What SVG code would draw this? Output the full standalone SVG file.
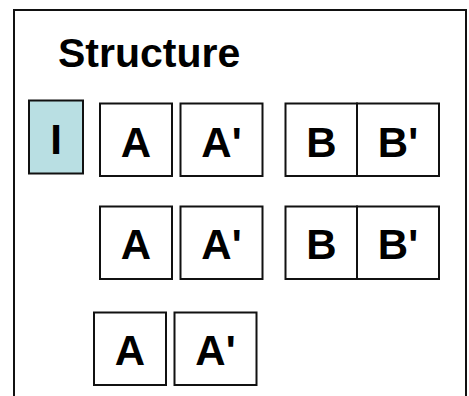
<svg xmlns="http://www.w3.org/2000/svg" width="469" height="396" viewBox="0 0 469 396">
<style>
.box{fill:#fff;stroke:#111;stroke-width:2}
.hi{fill:#b9dfe3}
.lbl{font-family:"Liberation Sans",Arial,sans-serif;font-weight:bold;font-size:42px;text-anchor:middle;fill:#000}
.title{font-family:"Liberation Sans",Arial,sans-serif;font-weight:bold;font-size:41px;fill:#000}
</style>
<rect width="469" height="396" fill="#fff"/>
<path d="M14,400 V10 H466 V400" fill="none" stroke="#111" stroke-width="2"/>
<text class="title" x="58" y="66.5">Structure</text>
<g id="node-I"><rect class="box hi" x="29" y="100.5" width="54" height="73"/><text class="lbl" x="56" y="153.5">I</text></g>
<g id="row1">
<g id="r1-A"><rect class="box" x="100" y="103.5" width="72" height="72.5"/><text class="lbl" x="136" y="156.5">A</text></g>
<g id="r1-A2"><rect class="box" x="180.5" y="103.5" width="82" height="72.5"/><text class="lbl" x="221.5" y="156.5">A'</text></g>
<g id="r1-B"><rect class="box" x="285.5" y="103.5" width="71.5" height="72.5"/><text class="lbl" x="321.5" y="156.5">B</text></g>
<g id="r1-B2"><rect class="box" x="357" y="103.5" width="82" height="72.5"/><text class="lbl" x="398" y="156.5">B'</text></g>
</g>
<g id="row2">
<g id="r2-A"><rect class="box" x="100" y="206.5" width="72" height="72.5"/><text class="lbl" x="136" y="258.5">A</text></g>
<g id="r2-A2"><rect class="box" x="180.5" y="206.5" width="82" height="72.5"/><text class="lbl" x="221.5" y="258.5">A'</text></g>
<g id="r2-B"><rect class="box" x="285.5" y="206.5" width="71.5" height="72.5"/><text class="lbl" x="321.5" y="258.5">B</text></g>
<g id="r2-B2"><rect class="box" x="357" y="206.5" width="82" height="72.5"/><text class="lbl" x="398" y="258.5">B'</text></g>
</g>
<g id="row3">
<g id="r3-A"><rect class="box" x="94" y="312.5" width="72" height="72.5"/><text class="lbl" x="130" y="364.5">A</text></g>
<g id="r3-A2"><rect class="box" x="174.5" y="312.5" width="82" height="72.5"/><text class="lbl" x="215.5" y="364.5">A'</text></g>
</g>
<g id="connectors"/>
</svg>
